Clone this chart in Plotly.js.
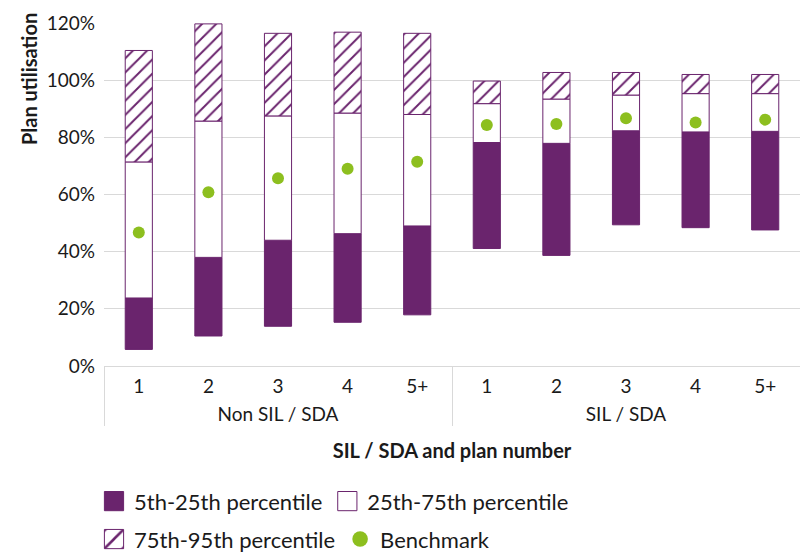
<!DOCTYPE html>
<html><head><meta charset="utf-8">
<script src="https://cdn.plot.ly/plotly-3.0.1.min.js"></script>
<style>html,body{margin:0;padding:0;background:#fff}</style>
</head><body><div id="chart" style="width:800px;height:553px"></div>
<script>
// ---- data ----
const groups = ['Non SIL / SDA', 'SIL / SDA'];
const plans = ['1', '2', '3', '4', '5+'];
const p5  = [0.058, 0.105, 0.139, 0.153, 0.179, 0.411, 0.387, 0.494, 0.484, 0.476];
const p25 = [0.238, 0.380, 0.440, 0.463, 0.490, 0.782, 0.779, 0.823, 0.819, 0.821];
const p75 = [0.714, 0.857, 0.875, 0.885, 0.880, 0.918, 0.934, 0.948, 0.953, 0.953];
const p95 = [1.104, 1.197, 1.164, 1.168, 1.164, 0.997, 1.027, 1.027, 1.020, 1.020];
const benchmark = [0.467, 0.608, 0.657, 0.690, 0.715, 0.843, 0.847, 0.867, 0.852, 0.862];
const seriesNames = ['5th-25th percentile', '25th-75th percentile', '75th-95th percentile', 'Benchmark'];

// ---- build ----
const xGroup = [], xPlan = [];
groups.forEach(g => plans.forEach(p => { xGroup.push(g); xPlan.push(p); }));
const x = [xGroup, xPlan];
const diff = (a, b) => a.map((v, i) => v - b[i]);

const purple = '#6a246d';
const green = '#8dbf1f';
const barW = 0.39;

const traces = [
  { type: 'bar', name: seriesNames[0], x: x, base: p5, y: diff(p25, p5), width: barW,
    marker: { color: purple, line: { color: purple, width: 1 } }, legend: 'legend', hoverinfo: 'skip' },
  { type: 'bar', name: seriesNames[1], x: x, base: p25, y: diff(p75, p25), width: barW,
    marker: { color: '#ffffff', line: { color: purple, width: 1 } }, legend: 'legend', hoverinfo: 'skip' },
  { type: 'bar', name: seriesNames[2], x: x, base: p75, y: diff(p95, p75), width: barW,
    marker: { color: '#ffffff', line: { color: purple, width: 1 },
      pattern: { shape: '/', fgcolor: purple, bgcolor: '#ffffff', size: 10, solidity: 0.2 } },
    legend: 'legend2', hoverinfo: 'skip' },
  { type: 'scatter', mode: 'markers', name: seriesNames[3], x: x, y: benchmark,
    marker: { color: green, size: 12 }, legend: 'legend2', hoverinfo: 'skip' }
];

const plotTop = 23, plotBottom = 366.5, plotH = plotBottom - plotTop;
const plotLeft = 104, plotW = 696;
const py = px => (plotBottom - px) / plotH;
const pxX = px => (px - plotLeft) / plotW;

const legendFont = { size: 22, color: '#1a1a1a' };

const layout = {
  width: 800, height: 553,
  margin: { l: plotLeft, r: 800 - plotLeft - plotW, t: plotTop, b: 553 - plotBottom, autoexpand: false },
  paper_bgcolor: '#ffffff', plot_bgcolor: '#ffffff',
  font: { family: 'Lato, "Open Sans", sans-serif', color: '#1a1a1a' },
  barmode: 'overlay',
  showlegend: true,
  xaxis: {
    type: 'multicategory', range: [-0.5, 9.5], autorange: false,
    showdividers: true, dividercolor: '#d9d9d9', dividerwidth: 1,
    showline: true, linecolor: '#d9d9d9', linewidth: 1, ticks: '', showgrid: false,
    tickfont: { size: 19, color: '#1a1a1a' }, ticklabelstandoff: 3,
    title: { text: 'SIL / SDA and plan number', font: { size: 20, weight: 'bold', color: '#1a1a1a' }, standoff: 26 }
  },
  yaxis: {
    range: [0, 1.2001], dtick: 0.2, tick0: 0, tickformat: '.0%',
    gridcolor: '#d9d9d9', gridwidth: 1, zeroline: false, showline: false, ticks: '',
    tickfont: { size: 19, color: '#1a1a1a' }, ticklabelstandoff: 8
  },
  legend: { orientation: 'h', x: pxX(94), xanchor: 'left', y: py(502), yanchor: 'middle',
    font: legendFont, bgcolor: 'rgba(0,0,0,0)', itemclick: false },
  legend2: { orientation: 'h', x: pxX(94), xanchor: 'left', y: py(540), yanchor: 'middle',
    font: legendFont, bgcolor: 'rgba(0,0,0,0)', itemclick: false },
  annotations: [{
    text: '<b>Plan utilisation</b>', textangle: -90, xref: 'paper', yref: 'paper',
    x: pxX(29), y: py(11), xanchor: 'center', yanchor: 'top', showarrow: false,
    font: { size: 20, color: '#1a1a1a' }
  }]
};

function tweak() {
  const gd = document.getElementById('chart');
  // larger legend keys, as in the reference
  gd.querySelectorAll('.legendpoints path').forEach(p => {
    if (p.dataset.done) return;
    p.dataset.done = '1';
    const isPoint = p.classList.contains('scatterpts');
    const t = p.getAttribute('transform') || '';
    p.setAttribute('transform', t + (isPoint ? ' scale(1.3)' : ' scale(1.6)'));
    if (!isPoint) p.style.vectorEffect = 'non-scaling-stroke';
  });
  // group labels a little lower, dividers a little longer
  gd.querySelectorAll('g.xtick2').forEach(g => {
    if (g.dataset.done) return;
    g.dataset.done = '1';
    const t = g.getAttribute('transform') || '';
    g.setAttribute('transform', 'translate(0,6) ' + t);
  });
  gd.querySelectorAll('path.xdivider').forEach(p => {
    if (p.dataset.done) return;
    p.dataset.done = '1';
    const b = p.getBBox();
    p.setAttribute('d', 'M' + (b.x + b.width / 2) + ',' + b.y + 'V' + (b.y + b.height + 7));
  });
}

Plotly.newPlot('chart', traces, layout, { displayModeBar: false, staticPlot: true }).then(() => {
  tweak();
  setTimeout(tweak, 0);
});
</script>
</body></html>
